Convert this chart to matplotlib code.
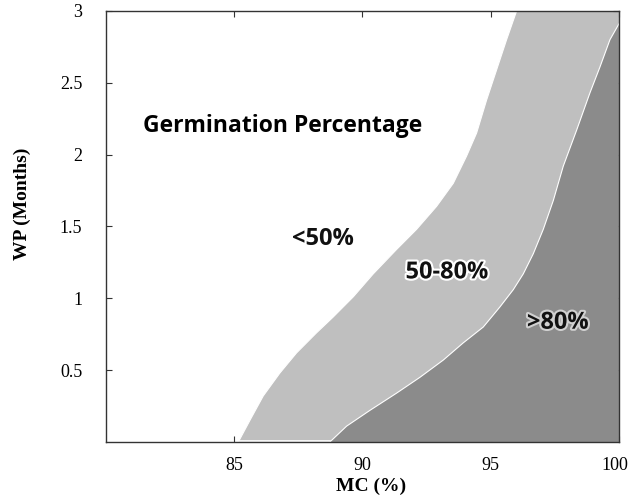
import matplotlib.pyplot as plt
import matplotlib.patheffects as pe
import matplotlib.transforms as mtransforms

# boundary between <50% and 50-80% (MC as a function of WP)
b1_mc = [85.16, 85.61, 86.13, 86.78, 87.43, 88.21, 88.86, 89.64, 90.42, 91.33,
         92.11, 92.89, 93.54, 94.06, 94.45, 94.84, 95.23, 95.62, 96.01]
b1_wp = [0.0, 0.15, 0.32, 0.48, 0.62, 0.76, 0.87, 1.01, 1.17, 1.34,
         1.48, 1.64, 1.80, 1.99, 2.15, 2.38, 2.59, 2.80, 3.0]

# boundary between 50-80% and >80%
b2_mc = [88.73, 89.38, 90.29, 91.33, 92.24, 93.15, 93.93, 94.71, 95.36, 95.88,
         96.27, 96.66, 97.05, 97.44, 97.83, 98.35, 98.87, 99.26, 99.65, 100.0]
b2_wp = [0.0, 0.11, 0.22, 0.34, 0.45, 0.57, 0.69, 0.80, 0.94, 1.06,
         1.17, 1.31, 1.48, 1.68, 1.92, 2.17, 2.43, 2.61, 2.80, 2.91]

labels = ['<50%', '50-80%', '>80%']
label_pos = [(88.46, 1.41), (93.3, 1.18), (97.62, 0.83)]

x_ticks = [85, 90, 95, 100]
y_ticks = [0.5, 1, 1.5, 2, 2.5, 3]

light = '#bfbfbf'
dark = '#8b8b8b'

fig = plt.figure(figsize=(6.29, 4.97), dpi=100)
ax = fig.add_axes([0.1685, 0.1107, 0.8155, 0.8673])

# light region: right of boundary 1
ax.fill(b1_mc + [100, 100], b1_wp + [3, 0], color=light, lw=0, zorder=1)
ax.plot(b1_mc, b1_wp, color='white', lw=0.8, zorder=2)

# dark region: right of boundary 2
ax.fill(b2_mc + [100], b2_wp + [0], color=dark, lw=0, zorder=3)
ax.plot(b2_mc, b2_wp, color='white', lw=0.8, zorder=4)
ax.plot([b1_mc[0], b2_mc[0]], [0.006, 0.006], color='white', lw=1.2, zorder=4)

ax.set_xlim(80, 100)
ax.set_ylim(0, 3)

sans = ['Open Sans', 'DejaVu Sans']
ax.text(86.87, 2.2, 'Germination Percentage', family=sans, fontweight='bold',
        fontsize=16.5, ha='center', va='center', zorder=5)

halos = [None, 'white', '#d0d0d0']
for lab, (x, y), h in zip(labels, label_pos, halos):
    t = ax.text(x, y, lab, family=sans, fontweight='bold', fontsize=17,
                ha='center', va='center', color='#111111', zorder=5)
    if h is not None:
        t.set_path_effects([pe.withStroke(linewidth=3, foreground=h)])

serif = 'Liberation Serif'
ax.set_xticks(x_ticks)
ax.set_yticks(y_ticks)
ax.set_xticklabels([str(v) for v in x_ticks], family=serif, fontsize=13)
ax.set_yticklabels(['0.5', '1', '1.5', '2', '2.5', '3'], family=serif, fontsize=13)
ax.tick_params(direction='in', length=4, width=0.8, top=True, right=True,
               color='#333333')
ax.tick_params(axis='y', pad=17)
ax.tick_params(axis='x', pad=11)

# the last x label sits a little left of its tick in the reference
last = ax.get_xticklabels()[-1]
last.set_transform(last.get_transform() +
                   mtransforms.ScaledTranslation(-4 / 100, 0, fig.dpi_scale_trans))

for s in ax.spines.values():
    s.set_color('#333333')
    s.set_linewidth(1.0)
    s.set_zorder(6)

ax.set_xlabel('MC (%)', family=serif, fontweight='bold', fontsize=14)
ax.xaxis.set_label_coords(0.517, -0.102)
ax.xaxis.label.set_va('center')
ax.set_ylabel('WP (Months)', family=serif, fontweight='bold', fontsize=14)
ax.yaxis.set_label_coords(-0.164, 0.552)
ax.yaxis.label.set_va('center')

fig.savefig('out.png', dpi=100)
